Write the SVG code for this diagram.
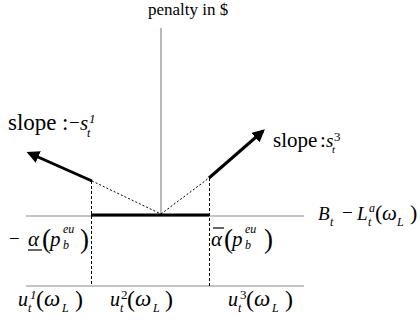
<svg xmlns="http://www.w3.org/2000/svg" width="420" height="323" viewBox="0 0 420 323">
<style>
text{font-family:Liberation Serif,Times New Roman,serif;fill:#000}
.i{font-style:italic}
.axis{stroke:#8a8a8a;stroke-width:1.2;fill:none}
.thick{stroke:#000;stroke-width:3;fill:none}
.dash{stroke:#000;stroke-width:1;stroke-dasharray:3,2;fill:none}
.dot{stroke:#000;stroke-width:1;stroke-dasharray:2,2;fill:none}
.bar{stroke:#000;stroke-width:1.2}
</style>
<defs>
<marker id="ah" viewBox="0 0 10 10" refX="8" refY="5" markerWidth="4.2" markerHeight="4.2" orient="auto" markerUnits="strokeWidth">
<path d="M0,0 L10,5 L0,10 z" fill="#000"/>
</marker>
</defs>
<g id="connectors">
<line class="axis" x1="161" y1="28" x2="161" y2="215"/>
<line class="axis" x1="26" y1="216" x2="304" y2="216"/>
<line class="axis" x1="26" y1="286" x2="304" y2="286"/>
<line class="thick" x1="91" y1="215" x2="209" y2="215"/>
<line class="dash" x1="91.5" y1="181" x2="91.5" y2="286"/>
<line class="dash" x1="209.5" y1="178" x2="209.5" y2="286"/>
<line class="dot" x1="92" y1="181" x2="161" y2="214"/>
<line class="dot" x1="161" y1="214" x2="209" y2="178"/>
<line class="thick" x1="92" y1="181" x2="29" y2="153" marker-end="url(#ah)"/>
<line class="thick" x1="209" y1="178" x2="263" y2="131" marker-end="url(#ah)"/>
</g>
<g id="label-penalty"><text x="148" y="15" font-size="17">penalty in $</text></g>
<g id="label-slope1">
<text x="8" y="130" font-size="23">slope</text>
<text x="62" y="130" font-size="23">:</text>
<text x="69" y="129" font-size="19">−</text>
<text class="i" x="80" y="130" font-size="21">s</text>
<text class="i" x="87" y="137" font-size="12">t</text>
<text class="i" x="89" y="123" font-size="13">1</text>
</g>
<g id="label-slope3">
<text x="273" y="147" font-size="21">slope</text>
<text x="320" y="147" font-size="21">:</text>
<text class="i" x="326" y="147" font-size="19">s</text>
<text class="i" x="332" y="153" font-size="11">t</text>
<text x="334" y="141" font-size="13">3</text>
</g>
<g id="label-B">
<text class="i" x="318" y="220" font-size="19">B</text>
<text class="i" x="330" y="226" font-size="12">t</text>
<text x="342" y="219" font-size="19">−</text>
<text class="i" x="357" y="220" font-size="19">L</text>
<text class="i" x="369" y="212" font-size="12">a</text>
<text class="i" x="368" y="226" font-size="12">t</text>
<text x="375" y="220" font-size="22">(</text>
<text class="i" x="382" y="220" font-size="21">ω</text>
<text class="i" x="397" y="226" font-size="12">L</text>
<text x="410" y="220" font-size="22">)</text>
</g>
<g id="label-alpha-low">
<text x="9" y="245" font-size="19">−</text>
<text class="i" x="28" y="246" font-size="21">α</text>
<line class="bar" x1="28" y1="250" x2="42" y2="250"/>
<text x="42" y="248" font-size="27">(</text>
<text class="i" x="50" y="246" font-size="21">p</text>
<text class="i" x="63" y="233" font-size="12">eu</text>
<text class="i" x="63" y="249" font-size="12">b</text>
<text x="80" y="248" font-size="27">)</text>
</g>
<g id="label-alpha-up">
<line class="bar" x1="213" y1="228" x2="224" y2="228"/>
<text class="i" x="211" y="246" font-size="21">α</text>
<text x="224" y="248" font-size="27">(</text>
<text class="i" x="232" y="246" font-size="21">p</text>
<text class="i" x="245" y="233" font-size="12">eu</text>
<text class="i" x="245" y="249" font-size="12">b</text>
<text x="264" y="248" font-size="27">)</text>
</g>
<g id="label-u1">
<text class="i" x="18" y="306" font-size="20">u</text>
<text class="i" x="28" y="312" font-size="12">t</text>
<text class="i" x="30" y="299" font-size="13">1</text>
<text x="36" y="307" font-size="24">(</text>
<text class="i" x="44" y="306" font-size="23">ω</text>
<text class="i" x="62" y="312" font-size="12">L</text>
<text x="75" y="307" font-size="24">)</text>
</g>
<g id="label-u2">
<text class="i" x="110" y="306" font-size="20">u</text>
<text class="i" x="120" y="312" font-size="12">t</text>
<text x="121" y="299" font-size="13">2</text>
<text x="127" y="307" font-size="24">(</text>
<text class="i" x="135" y="306" font-size="23">ω</text>
<text class="i" x="153" y="312" font-size="12">L</text>
<text x="165" y="307" font-size="24">)</text>
</g>
<g id="label-u3">
<text class="i" x="228" y="306" font-size="20">u</text>
<text class="i" x="238" y="312" font-size="12">t</text>
<text x="240" y="299" font-size="13">3</text>
<text x="246" y="307" font-size="24">(</text>
<text class="i" x="254" y="306" font-size="23">ω</text>
<text class="i" x="272" y="312" font-size="12">L</text>
<text x="285" y="307" font-size="24">)</text>
</g>
</svg>
